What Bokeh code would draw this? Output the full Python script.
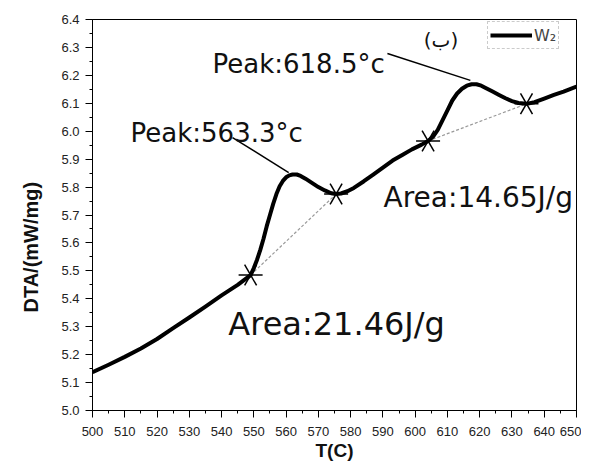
from bokeh.plotting import figure
from bokeh.models import SingleIntervalTicker, NumeralTickFormatter, Legend, LegendItem, Range1d, Title
from bokeh.core.properties import value
from bokeh.embed import file_html
from bokeh.resources import INLINE
import math

# DTA curve (W2)
temp = [500, 505, 510, 515, 520, 525, 530, 535, 540, 545, 549, 550, 551, 552, 553, 554, 555,
        556, 557, 558, 559, 560, 561, 562, 563.3, 564.5, 566, 568, 570, 572, 574, 575.5, 577,
        579, 581, 584, 587, 590, 593, 596, 599, 602, 604, 605.5, 607, 608.5, 610, 611.5, 613,
        614.5, 616, 617.5, 619, 620.5, 622, 624, 626, 628, 630, 632, 634.5, 637, 640, 643, 646,
        650]
dta = [5.137, 5.164, 5.192, 5.222, 5.256, 5.295, 5.333, 5.372, 5.412, 5.45, 5.485, 5.51, 5.54,
       5.575, 5.615, 5.66, 5.70, 5.74, 5.775, 5.803, 5.822, 5.835, 5.842, 5.845, 5.845, 5.84,
       5.83, 5.815, 5.80, 5.788, 5.778, 5.775, 5.777, 5.785, 5.797, 5.82, 5.845, 5.87, 5.895,
       5.915, 5.935, 5.952, 5.965, 5.98, 6.005, 6.04, 6.075, 6.11, 6.135, 6.152, 6.163, 6.168,
       6.168, 6.163, 6.154, 6.142, 6.13, 6.118, 6.108, 6.101, 6.098, 6.104, 6.117, 6.13, 6.142,
       6.16]

# integration limit markers
cross_t = [549.0, 575.5, 604.0, 634.5]
cross_dta = [5.485, 5.775, 5.965, 6.098]

# baselines between limits
base_x0 = [549.0, 604.0]
base_y0 = [5.485, 5.965]
base_x1 = [575.5, 634.5]
base_y1 = [5.775, 6.098]

# peak annotations
peak_labels = ["Peak:563.3°c", "Peak:618.5°c"]
peak_label_t = [511.8, 537.2]
peak_label_dta = [5.992, 6.242]
lead_x0 = [543.4, 591.4]
lead_y0 = [5.977, 6.278]
lead_x1 = [560.8, 617.1]
lead_y1 = [5.852, 6.182]

# area annotations
area_labels = ["Area:21.46J/g", "Area:14.65J/g"]
area_label_t = [542.1, 590.2]
area_label_dta = [5.311, 5.763]

panel_label = ["(ب)"]
panel_t = [608.0]
panel_dta = [6.328]

p = figure(width=581, height=464, output_backend="svg", toolbar_location=None,
           x_range=Range1d(500, 650), y_range=Range1d(5.0, 6.4),
           min_border_left=92, min_border_right=5, min_border_top=19, min_border_bottom=54)
p.xgrid.visible = False
p.ygrid.visible = False
p.background_fill_color = "white"
p.border_fill_color = "white"
p.outline_line_color = "black"
p.outline_line_width = 1
p.outline_line_alpha = 1

p.xaxis.ticker = SingleIntervalTicker(interval=10, num_minor_ticks=2)
p.yaxis.ticker = SingleIntervalTicker(interval=0.1, num_minor_ticks=2)
p.yaxis.formatter = NumeralTickFormatter(format="0.0")
for ax in (p.xaxis, p.yaxis):
    ax.major_tick_out = 7
    ax.major_tick_in = 0
    ax.minor_tick_out = 3
    ax.minor_tick_in = 0
    ax.axis_line_color = "black"
    ax.major_tick_line_color = "black"
    ax.minor_tick_line_color = "black"
    ax.major_label_text_font = "Liberation Sans"
    ax.major_label_text_font_size = "13px"
    ax.major_label_text_color = "#222222"
    ax.axis_label_text_font = "Liberation Sans"
    ax.axis_label_text_font_style = "bold"
    ax.axis_label_text_font_size = "19px"
    ax.axis_label_text_color = "#111111"
p.xaxis.axis_label = "T(C)"
p.xaxis.major_label_standoff = 9
p.yaxis.major_label_standoff = 6
p.xaxis.axis_label_standoff = 1

ylab = Title(text="DTA/(mW/mg)", align="left", offset=98,
             text_font="Liberation Sans", text_font_style="bold", text_font_size="20px",
             text_color="#111111", standoff=34)
p.add_layout(ylab, "left")

# baselines
p.segment(x0=base_x0, y0=base_y0, x1=base_x1, y1=base_y1, line_color="#999999",
          line_width=1.2, line_dash="3 2")
# curve
curve = p.line(temp, dta, line_color="black", line_width=4, line_join="round")
# asterisk markers
for ang in (0.0, math.pi / 3, 2 * math.pi / 3):
    p.scatter(cross_t, cross_dta, marker="dash", size=24, angle=ang,
              line_color="black", line_width=1.5, fill_color="black")
# leader lines
p.segment(x0=lead_x0, y0=lead_y0, x1=lead_x1, y1=lead_y1, line_color="black", line_width=1.5)

p.text(peak_label_t, peak_label_dta, text=peak_labels, text_font=value("DejaVu Sans"),
       text_font_size="26px", text_color="#111111", text_baseline="alphabetic", text_align="left")
p.text(area_label_t[:1], area_label_dta[:1], text=area_labels[:1], text_font=value("DejaVu Sans"),
       text_font_size="32px", text_color="#111111", text_baseline="alphabetic", text_align="left")
p.text(area_label_t[1:], area_label_dta[1:], text=area_labels[1:], text_font=value("DejaVu Sans"),
       text_font_size="28px", text_color="#111111", text_baseline="alphabetic", text_align="left")
p.text(panel_t, panel_dta, text=panel_label, text_font=value("DejaVu Sans"),
       text_font_size="20px", text_color="#111111", text_baseline="middle", text_align="center")

legend = Legend(items=[LegendItem(label="W₂", renderers=[curve])], location=(395, 361),
                padding=2, margin=0, glyph_width=42, glyph_height=22, label_standoff=2,
                label_text_font="DejaVu Sans", label_text_font_size="16px",
                border_line_color="#999999", border_line_dash="1 1", border_line_width=1,
                background_fill_alpha=1)
p.add_layout(legend)

open("out.html", "w").write(file_html(p, INLINE))
